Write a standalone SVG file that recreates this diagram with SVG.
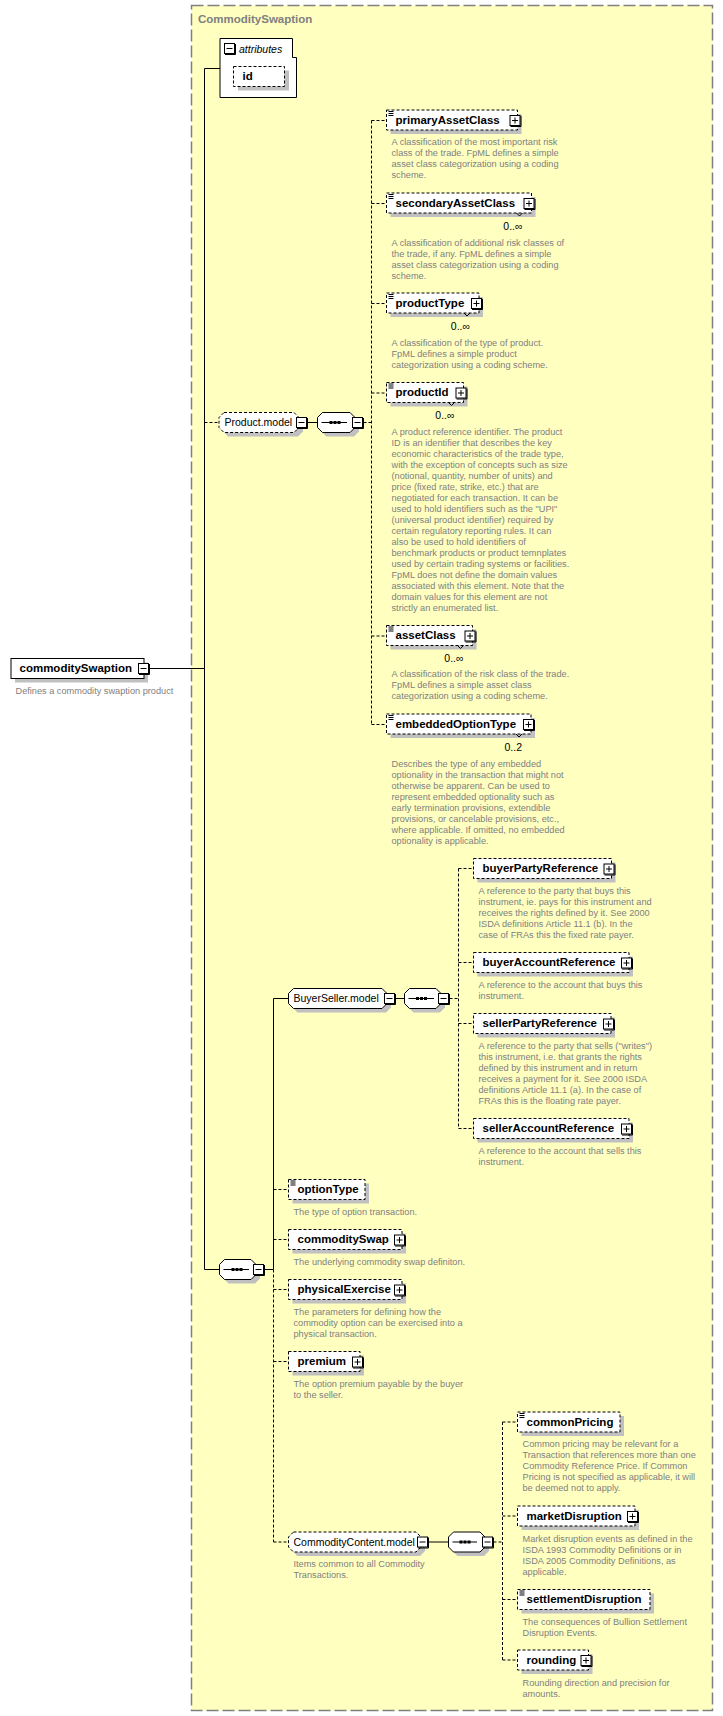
<svg xmlns="http://www.w3.org/2000/svg" width="723" height="1716" viewBox="0 0 723 1716">
<style>
.ct{fill:#ffffc0;stroke:#808080;stroke-width:1.5;stroke-dasharray:12,4}
.ttl{font:bold 11.5px 'Liberation Sans',Arial,sans-serif;fill:#808080}
.sh{fill:#c0c0c0}
.bx{fill:#fff;stroke:#000;stroke-width:1}
.op{stroke-dasharray:3,2}
.nm{font:bold 11.5px 'Liberation Sans',Arial,sans-serif;fill:#000}
.md{font:10.5px 'Liberation Sans',Arial,sans-serif;fill:#000}
.it{font:italic 10.5px 'Liberation Sans',Arial,sans-serif;fill:#000}
.ds{font:9.2px 'Liberation Sans',Arial,sans-serif;fill:#808080}
.ml{font:10.5px 'Liberation Sans',Arial,sans-serif;fill:#000;text-anchor:end}
.ln{fill:none;stroke:#000;stroke-width:1}
.dl{fill:none;stroke:#000;stroke-width:1;stroke-dasharray:3,2}
</style>
<defs>
<g id="mi"><rect x="0.5" y="0.5" width="10" height="10" fill="#fff" stroke="#000"/><path d="M11.5,1 V11.5 H1" fill="none" stroke="#000"/><path d="M2.5,5.5 H8.5" stroke="#000"/></g>
<g id="pl"><rect x="0.5" y="0.5" width="10" height="10" fill="#fff" stroke="#000"/><path d="M11.5,1 V11.5 H1" fill="none" stroke="#000"/><path d="M2.5,5.5 H8.5 M5.5,2.5 V8.5" stroke="#000"/></g>
<path id="ic" d="M2,1.5 h5 M2,3.5 h5 M2,5.5 h5" stroke="#000" fill="none"/>
<path id="nt" d="M0,0 L3,3 L6,0" fill="none" stroke="#000"/>
</defs>
<rect x="0" y="0" width="723" height="1716" fill="#fff"/>
<g id="CommoditySwaption_type">
<rect class="ct" x="191.5" y="5.5" width="521" height="1705"/>
<text class="ttl" x="198" y="23">CommoditySwaption</text>
</g>

<g id="connectors">
<path class="ln" d="M149.5,668.5 H204.5 M204.5,68.5 V1269.5 M204.5,68.5 H220 M204.5,1269.5 H219.5"/>
<path class="dl" d="M204.5,422.5 H219"/>
<path class="ln" d="M307.5,422.5 H317.5"/>
<path class="dl" d="M363.5,422.5 H371.5 M371.5,120.5 V724.5 M371.5,120.5 H386.5 M371.5,203.5 H386.5 M371.5,303.5 H386.5 M371.5,393 H386.5 M371.5,636 H386.5 M371.5,724.5 H386.5"/>
<path class="ln" d="M273.5,998.5 V1269.5 M273.5,998.5 H288.5 M395.5,998.5 H404.5 M264.5,1269.5 H273.5"/>
<path class="dl" d="M449.5,998.5 H458.5 M458.5,868.5 V1128.5 M458.5,868.5 H473.5 M458.5,962.5 H473.5 M458.5,1023.5 H473.5 M458.5,1128.5 H473.5"/>
<path class="dl" d="M273.5,1269.5 V1542 M273.5,1189.5 H288.5 M273.5,1239.5 H288.5 M273.5,1289.5 H288.5 M273.5,1361.5 H288.5 M273.5,1542 H288.5"/>
<path class="ln" d="M428.5,1542 H448.5"/>
<path class="dl" d="M493.5,1542 H502.5 M502.5,1422 V1660 M502.5,1422 H517.5 M502.5,1516 H517.5 M502.5,1599.5 H517.5 M502.5,1660 H517.5"/>
</g>

<g id="commoditySwaption">
<rect class="sh" x="15" y="662.5" width="133" height="20"/>
<rect class="bx" x="11" y="658.5" width="133" height="20"/>
<text class="nm" x="19.5" y="672">commoditySwaption</text>
<use href="#mi" x="138" y="663"/>
<text class="ds" x="15.5" y="693.5">Defines a commodity swaption product</text>
</g>

<g id="attributes">
<path class="bx" d="M220,38.5 H292.5 V57.5 H296.5 V97.5 H220 Z"/>
<use href="#mi" x="224" y="43"/>
<text class="it" x="239" y="53">attributes</text>
</g>
<g id="id">
<rect class="sh" x="238" y="70.5" width="51" height="20"/>
<rect class="bx op" x="233.5" y="66.5" width="51" height="20"/>
<text class="nm" x="242.5" y="80">id</text>
</g>

<g id="Product_model">
<path class="sh" d="M228,416.5 H298 L303,421.5 V431.5 L298,436.5 H228 L223,431.5 V421.5 Z"/>
<path class="bx op" d="M224,412.5 H294 L299,417.5 V427.5 L294,432.5 H224 L219,427.5 V417.5 Z"/>
<text class="md" x="224.5" y="426">Product.model</text>
<use href="#mi" x="296" y="417"/>
</g>
<g id="Product_model_sequence">
<path class="sh" d="M326.5,416.5 H354 L359,421.5 V431.5 L354,436.5 H326.5 L321.5,431.5 V421.5 Z"/>
<path class="bx" d="M322.5,412.5 H350 L355,417.5 V427.5 L350,432.5 H322.5 L317.5,427.5 V417.5 Z"/>
<path class="ln" d="M321.5,422.5 H347"/>
<rect x="329.5" y="421" width="3" height="3"/><rect x="333.5" y="421" width="3" height="3"/><rect x="337.5" y="421" width="3" height="3"/>
<use href="#mi" x="352" y="417"/>
</g>

<g id="primaryAssetClass">
<rect class="sh" x="390.5" y="114" width="131" height="20"/>
<rect class="bx op" x="386.5" y="110" width="131" height="20"/>
<use href="#ic" x="386.5" y="110"/>
<text class="nm" x="395.5" y="123.5">primaryAssetClass</text>
<use href="#pl" x="509.5" y="115"/>
<text class="ds"><tspan x="391.5" y="145">A classification of the most important risk</tspan><tspan x="391.5" y="156">class of the trade. FpML defines a simple</tspan><tspan x="391.5" y="167">asset class categorization using a coding</tspan><tspan x="391.5" y="178">scheme.</tspan></text>
</g>

<g id="secondaryAssetClass">
<rect class="sh" x="390.5" y="197" width="145" height="20"/>
<rect class="bx op" x="386.5" y="193" width="145" height="20"/>
<use href="#ic" x="386.5" y="193"/>
<text class="nm" x="395.5" y="206.5">secondaryAssetClass</text>
<use href="#pl" x="523.5" y="198"/>
<use href="#nt" x="516.5" y="213"/>
<text class="ml" x="522.5" y="229.5">0..∞</text>
<text class="ds"><tspan x="391.5" y="245.5">A classification of additional risk classes of</tspan><tspan x="391.5" y="256.5">the trade, if any. FpML defines a simple</tspan><tspan x="391.5" y="267.5">asset class categorization using a coding</tspan><tspan x="391.5" y="278.5">scheme.</tspan></text>
</g>

<g id="productType">
<rect class="sh" x="390.5" y="297" width="92.5" height="20"/>
<rect class="bx op" x="386.5" y="293" width="92.5" height="20"/>
<use href="#ic" x="386.5" y="293"/>
<text class="nm" x="395.5" y="306.5">productType</text>
<use href="#pl" x="471" y="298"/>
<use href="#nt" x="464" y="313"/>
<text class="ml" x="470" y="329.5">0..∞</text>
<text class="ds"><tspan x="391.5" y="345.5">A classification of the type of product.</tspan><tspan x="391.5" y="356.5">FpML defines a simple product</tspan><tspan x="391.5" y="367.5">categorization using a coding scheme.</tspan></text>
</g>

<g id="productId">
<rect class="sh" x="390.5" y="386.5" width="77" height="20"/>
<rect class="bx op" x="386.5" y="382.5" width="77" height="20"/>
<use href="#ic" x="386.5" y="382.5"/>
<text class="nm" x="395.5" y="396">productId</text>
<use href="#pl" x="455.5" y="387.5"/>
<use href="#nt" x="448.5" y="402.5"/>
<text class="ml" x="454.5" y="419">0..∞</text>
<text class="ds"><tspan x="391.5" y="435">A product reference identifier. The product</tspan><tspan x="391.5" y="446">ID is an identifier that describes the key</tspan><tspan x="391.5" y="457">economic characteristics of the trade type,</tspan><tspan x="391.5" y="468">with the exception of concepts such as size</tspan><tspan x="391.5" y="479">(notional, quantity, number of units) and</tspan><tspan x="391.5" y="490">price (fixed rate, strike, etc.) that are</tspan><tspan x="391.5" y="501">negotiated for each transaction. It can be</tspan><tspan x="391.5" y="512">used to hold identifiers such as the "UPI"</tspan><tspan x="391.5" y="523">(universal product identifier) required by</tspan><tspan x="391.5" y="534">certain regulatory reporting rules. It can</tspan><tspan x="391.5" y="545">also be used to hold identifiers of</tspan><tspan x="391.5" y="556">benchmark products or product temnplates</tspan><tspan x="391.5" y="567">used by certain trading systems or facilities.</tspan><tspan x="391.5" y="578">FpML does not define the domain values</tspan><tspan x="391.5" y="589">associated with this element. Note that the</tspan><tspan x="391.5" y="600">domain values for this element are not</tspan><tspan x="391.5" y="611">strictly an enumerated list.</tspan></text>
</g>

<g id="assetClass">
<rect class="sh" x="390.5" y="629.5" width="86" height="20"/>
<rect class="bx op" x="386.5" y="625.5" width="86" height="20"/>
<use href="#ic" x="386.5" y="625.5"/>
<text class="nm" x="395.5" y="639">assetClass</text>
<use href="#pl" x="464.5" y="630.5"/>
<use href="#nt" x="457.5" y="645.5"/>
<text class="ml" x="463.5" y="662">0..∞</text>
<text class="ds"><tspan x="391.5" y="677">A classification of the risk class of the trade.</tspan><tspan x="391.5" y="688">FpML defines a simple asset class</tspan><tspan x="391.5" y="699">categorization using a coding scheme.</tspan></text>
</g>

<g id="embeddedOptionType">
<rect class="sh" x="390.5" y="718" width="144.5" height="20"/>
<rect class="bx op" x="386.5" y="714" width="144.5" height="20"/>
<use href="#ic" x="386.5" y="714"/>
<text class="nm" x="395.5" y="727.5">embeddedOptionType</text>
<use href="#pl" x="523" y="719"/>
<use href="#nt" x="516" y="734"/>
<text class="ml" x="522" y="750.5">0..2</text>
<text class="ds"><tspan x="391.5" y="766.5">Describes the type of any embedded</tspan><tspan x="391.5" y="777.5">optionality in the transaction that might not</tspan><tspan x="391.5" y="788.5">otherwise be apparent. Can be used to</tspan><tspan x="391.5" y="799.5">represent embedded optionality such as</tspan><tspan x="391.5" y="810.5">early termination provisions, extendible</tspan><tspan x="391.5" y="821.5">provisions, or cancelable provisions, etc.,</tspan><tspan x="391.5" y="832.5">where applicable. If omitted, no embedded</tspan><tspan x="391.5" y="843.5">optionality is applicable.</tspan></text>
</g>

<g id="BuyerSeller_model">
<path class="sh" d="M297.5,992.5 H386 L391,997.5 V1007.5 L386,1012.5 H297.5 L292.5,1007.5 V997.5 Z"/>
<path class="bx" d="M293.5,988.5 H382 L387,993.5 V1003.5 L382,1008.5 H293.5 L288.5,1003.5 V993.5 Z"/>
<text class="md" x="293.5" y="1002">BuyerSeller.model</text>
<use href="#mi" x="384" y="993"/>
</g>
<g id="BuyerSeller_model_sequence">
<path class="sh" d="M413.5,992.5 H440 L445,997.5 V1007.5 L440,1012.5 H413.5 L408.5,1007.5 V997.5 Z"/>
<path class="bx" d="M409.5,988.5 H436 L441,993.5 V1003.5 L436,1008.5 H409.5 L404.5,1003.5 V993.5 Z"/>
<path class="ln" d="M408.5,998.5 H434"/>
<rect x="416" y="997" width="3" height="3"/><rect x="420" y="997" width="3" height="3"/><rect x="424" y="997" width="3" height="3"/>
<use href="#mi" x="438" y="993"/>
</g>

<g id="buyerPartyReference">
<rect class="sh" x="477.5" y="862.5" width="138" height="20"/>
<rect class="bx op" x="473.5" y="858.5" width="138" height="20"/>
<text class="nm" x="482.5" y="872">buyerPartyReference</text>
<use href="#pl" x="603.5" y="863.5"/>
<text class="ds"><tspan x="478.5" y="893.5">A reference to the party that buys this</tspan><tspan x="478.5" y="904.5">instrument, ie. pays for this instrument and</tspan><tspan x="478.5" y="915.5">receives the rights defined by it. See 2000</tspan><tspan x="478.5" y="926.5">ISDA definitions Article 11.1 (b). In the</tspan><tspan x="478.5" y="937.5">case of FRAs this the fixed rate payer.</tspan></text>
</g>

<g id="buyerAccountReference">
<rect class="sh" x="477.5" y="956.5" width="155.5" height="20"/>
<rect class="bx op" x="473.5" y="952.5" width="155.5" height="20"/>
<text class="nm" x="482.5" y="966">buyerAccountReference</text>
<use href="#pl" x="621" y="957.5"/>
<text class="ds"><tspan x="478.5" y="987.5">A reference to the account that buys this</tspan><tspan x="478.5" y="998.5">instrument.</tspan></text>
</g>

<g id="sellerPartyReference">
<rect class="sh" x="477.5" y="1017.5" width="137.5" height="20"/>
<rect class="bx op" x="473.5" y="1013.5" width="137.5" height="20"/>
<text class="nm" x="482.5" y="1027">sellerPartyReference</text>
<use href="#pl" x="603" y="1018.5"/>
<text class="ds"><tspan x="478.5" y="1048.5">A reference to the party that sells ("writes")</tspan><tspan x="478.5" y="1059.5">this instrument, i.e. that grants the rights</tspan><tspan x="478.5" y="1070.5">defined by this instrument and in return</tspan><tspan x="478.5" y="1081.5">receives a payment for it. See 2000 ISDA</tspan><tspan x="478.5" y="1092.5">definitions Article 11.1 (a). In the case of</tspan><tspan x="478.5" y="1103.5">FRAs this is the floating rate payer.</tspan></text>
</g>

<g id="sellerAccountReference">
<rect class="sh" x="477.5" y="1122.5" width="155.5" height="20"/>
<rect class="bx op" x="473.5" y="1118.5" width="155.5" height="20"/>
<text class="nm" x="482.5" y="1132">sellerAccountReference</text>
<use href="#pl" x="621" y="1123.5"/>
<text class="ds"><tspan x="478.5" y="1153.5">A reference to the account that sells this</tspan><tspan x="478.5" y="1164.5">instrument.</tspan></text>
</g>

<g id="main_sequence">
<path class="sh" d="M228.5,1263.5 H255 L260,1268.5 V1278.5 L255,1283.5 H228.5 L223.5,1278.5 V1268.5 Z"/>
<path class="bx" d="M224.5,1259.5 H251 L256,1264.5 V1274.5 L251,1279.5 H224.5 L219.5,1274.5 V1264.5 Z"/>
<path class="ln" d="M223.5,1269.5 H249"/>
<rect x="231.5" y="1268" width="3" height="3"/><rect x="235.5" y="1268" width="3" height="3"/><rect x="239.5" y="1268" width="3" height="3"/>
<use href="#mi" x="253" y="1264"/>
</g>

<g id="optionType">
<rect class="sh" x="292.5" y="1183.5" width="76.5" height="20"/>
<rect class="bx op" x="288.5" y="1179.5" width="76.5" height="20"/>
<use href="#ic" x="288.5" y="1179.5"/>
<text class="nm" x="297.5" y="1193">optionType</text>
<text class="ds" x="293.5" y="1214.5">The type of option transaction.</text>
</g>

<g id="commoditySwap">
<rect class="sh" x="292.5" y="1233.5" width="113.5" height="20"/>
<rect class="bx op" x="288.5" y="1229.5" width="113.5" height="20"/>
<text class="nm" x="297.5" y="1243">commoditySwap</text>
<use href="#pl" x="394" y="1234.5"/>
<text class="ds" x="293.5" y="1264.5">The underlying commodity swap definiton.</text>
</g>

<g id="physicalExercise">
<rect class="sh" x="292.5" y="1283.5" width="113.5" height="20"/>
<rect class="bx op" x="288.5" y="1279.5" width="113.5" height="20"/>
<text class="nm" x="297.5" y="1293">physicalExercise</text>
<use href="#pl" x="394" y="1284.5"/>
<text class="ds"><tspan x="293.5" y="1314.5">The parameters for defining how the</tspan><tspan x="293.5" y="1325.5">commodity option can be exercised into a</tspan><tspan x="293.5" y="1336.5">physical transaction.</tspan></text>
</g>

<g id="premium">
<rect class="sh" x="292.5" y="1355.5" width="71.5" height="20"/>
<rect class="bx op" x="288.5" y="1351.5" width="71.5" height="20"/>
<text class="nm" x="297.5" y="1365">premium</text>
<use href="#pl" x="352" y="1356.5"/>
<text class="ds"><tspan x="293.5" y="1386.5">The option premium payable by the buyer</tspan><tspan x="293.5" y="1397.5">to the seller.</tspan></text>
</g>

<g id="CommodityContent_model">
<path class="sh" d="M297.5,1536 H420 L425,1541 V1551 L420,1556 H297.5 L292.5,1551 V1541 Z"/>
<path class="bx op" d="M293.5,1532 H416 L421,1537 V1547 L416,1552 H293.5 L288.5,1547 V1537 Z"/>
<text class="md" x="293.5" y="1545.5">CommodityContent.model</text>
<use href="#mi" x="417" y="1536.5"/>
<text class="ds"><tspan x="293.5" y="1567">Items common to all Commodity</tspan><tspan x="293.5" y="1578">Transactions.</tspan></text>
</g>
<g id="CommodityContent_model_sequence">
<path class="sh" d="M457.5,1536 H484 L489,1541 V1551 L484,1556 H457.5 L452.5,1551 V1541 Z"/>
<path class="bx" d="M453.5,1532 H480 L485,1537 V1547 L480,1552 H453.5 L448.5,1547 V1537 Z"/>
<path class="ln" d="M452.5,1542 H477"/>
<rect x="459.5" y="1540.5" width="3" height="3"/><rect x="463.5" y="1540.5" width="3" height="3"/><rect x="467.5" y="1540.5" width="3" height="3"/>
<use href="#mi" x="482" y="1536.5"/>
</g>

<g id="commonPricing">
<rect class="sh" x="521.5" y="1416" width="102.5" height="20"/>
<rect class="bx op" x="517.5" y="1412" width="102.5" height="20"/>
<use href="#ic" x="517.5" y="1412"/>
<text class="nm" x="526.5" y="1425.5">commonPricing</text>
<text class="ds"><tspan x="522.5" y="1447">Common pricing may be relevant for a</tspan><tspan x="522.5" y="1458">Transaction that references more than one</tspan><tspan x="522.5" y="1469">Commodity Reference Price. If Common</tspan><tspan x="522.5" y="1480">Pricing is not specified as applicable, it will</tspan><tspan x="522.5" y="1491">be deemed not to apply.</tspan></text>
</g>

<g id="marketDisruption">
<rect class="sh" x="521.5" y="1510" width="117.5" height="20"/>
<rect class="bx op" x="517.5" y="1506" width="117.5" height="20"/>
<text class="nm" x="526.5" y="1519.5">marketDisruption</text>
<use href="#pl" x="627" y="1511"/>
<text class="ds"><tspan x="522.5" y="1541.5">Market disruption events as defined in the</tspan><tspan x="522.5" y="1552.5">ISDA 1993 Commodity Definitions or in</tspan><tspan x="522.5" y="1563.5">ISDA 2005 Commodity Definitions, as</tspan><tspan x="522.5" y="1574.5">applicable.</tspan></text>
</g>

<g id="settlementDisruption">
<rect class="sh" x="521.5" y="1593.5" width="132.5" height="20"/>
<rect class="bx op" x="517.5" y="1589.5" width="132.5" height="20"/>
<use href="#ic" x="517.5" y="1589.5"/>
<text class="nm" x="526.5" y="1603">settlementDisruption</text>
<text class="ds"><tspan x="522.5" y="1624.5">The consequences of Bullion Settlement</tspan><tspan x="522.5" y="1635.5">Disruption Events.</tspan></text>
</g>

<g id="rounding">
<rect class="sh" x="521.5" y="1654" width="71" height="20"/>
<rect class="bx op" x="517.5" y="1650" width="71" height="20"/>
<text class="nm" x="526.5" y="1663.5">rounding</text>
<use href="#pl" x="580.5" y="1655"/>
<text class="ds"><tspan x="522.5" y="1685.5">Rounding direction and precision for</tspan><tspan x="522.5" y="1696.5">amounts.</tspan></text>
</g>
</svg>
